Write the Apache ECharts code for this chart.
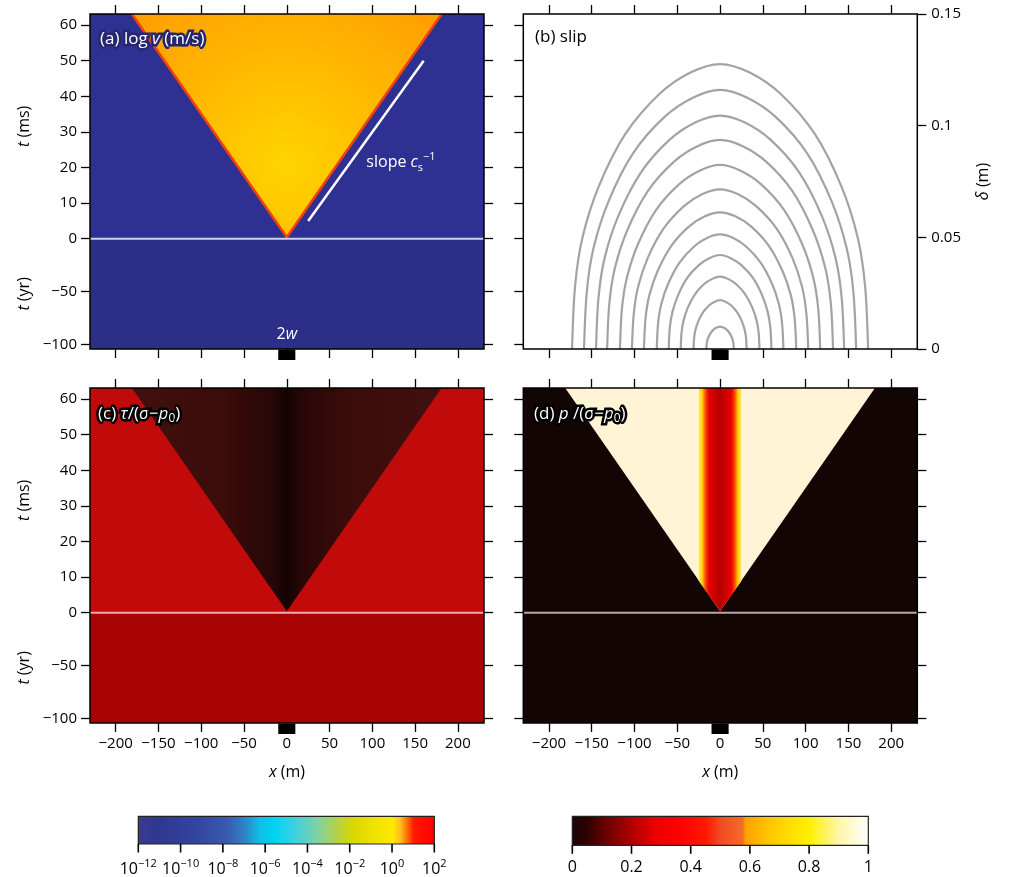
<!DOCTYPE html>
<html><head><meta charset="utf-8">
<script src="https://cdn.jsdelivr.net/npm/echarts@6/dist/echarts.min.js"></script>
<style>html,body{margin:0;padding:0;background:#fff}#c{width:1010px;height:877px}</style>
</head><body><div id="c"></div><script>
const FONT = '"Open Sans","Noto Sans",sans-serif';
const fmt = v => String(v).replace('-', '\u2212');

// ---------- data ----------
const xTicks = [-200, -150, -100, -50, 0, 50, 100, 150, 200];
const xRange = [-230, 230.5];
const tMsTicks = [0, 10, 20, 30, 40, 50, 60];
const tMsRange = [0, 63.1];
const tYrTicks = [-100, -50];
const tYrRange = [-104.5, 0];
const slipTicks = [0, 0.05, 0.1, 0.15];
const slipRange = [0, 0.15];
const twoW = [-10, 10];
const coneVerts = [[-181, 63.1], [0, 0.4], [181, 63.1]];
const stripeVerts = [[-25, 63.1], [-25, 9.0], [0, 0.4], [25, 9.0], [25, 63.1]];
const slopeLine = [[25, 5], [160, 50]];
const slopeLabelPos = [93, 21.4];
const twoWLabelPos = [0, -91];
const zeroLine = [[-230, 0], [230.5, 0]];
const logvTicks = [-12, -10, -8, -6, -4, -2, 0, 2];
const logvRange = [-12, 2];
const ratioTicks = [0, 0.2, 0.4, 0.6, 0.8, 1];
const ratioRange = [0, 1];

const slipX = [
  [-16,-15.7,-14.9,-13.1,-10.2,-6.6,-3.2,0,3.2,6.6,10.2,13.1,14.9,15.7,16],
  [-31,-30.4,-28.8,-25.4,-19.8,-12.7,-6.2,0,6.2,12.7,19.8,25.4,28.8,30.4,31],
  [-46,-45.1,-42.8,-37.7,-29.4,-18.9,-9.2,0,9.2,18.9,29.4,37.7,42.8,45.1,46],
  [-60,-58.8,-55.8,-49.2,-38.4,-24.6,-12,0,12,24.6,38.4,49.2,55.8,58.8,60],
  [-74,-72.5,-68.8,-60.7,-47.4,-30.3,-14.8,0,14.8,30.3,47.4,60.7,68.8,72.5,74],
  [-89,-87.2,-82.8,-73,-57,-36.5,-17.8,0,17.8,36.5,57,73,82.8,87.2,89],
  [-103,-100.9,-95.8,-84.5,-65.9,-42.2,-20.6,0,20.6,42.2,65.9,84.5,95.8,100.9,103],
  [-117,-114.7,-108.8,-95.9,-74.9,-48,-23.4,0,23.4,48,74.9,95.9,108.8,114.7,117],
  [-132,-129.4,-122.8,-108.2,-84.5,-54.1,-26.4,0,26.4,54.1,84.5,108.2,122.8,129.4,132],
  [-145,-142.1,-134.9,-118.9,-92.8,-59.5,-29,0,29,59.5,92.8,118.9,134.9,142.1,145],
  [-159,-155.8,-147.9,-130.4,-101.8,-65.2,-31.8,0,31.8,65.2,101.8,130.4,147.9,155.8,159],
  [-173,-169.5,-160.9,-141.9,-110.7,-70.9,-34.6,0,34.6,70.9,110.7,141.9,160.9,169.5,173]
];
const slipD = [
  [0,.0022,.0039,.0057,.0076,.0090,.0097,.0100,.0097,.0090,.0076,.0057,.0039,.0022,0],
  [0,.0048,.0085,.0125,.0165,.0196,.0212,.0219,.0212,.0196,.0165,.0125,.0085,.0048,0],
  [0,.0071,.0126,.0185,.0245,.0290,.0314,.0324,.0314,.0290,.0245,.0185,.0126,.0071,0],
  [0,.0093,.0164,.0240,.0318,.0377,.0408,.0421,.0408,.0377,.0318,.0240,.0164,.0093,0],
  [0,.0113,.0200,.0292,.0387,.0459,.0498,.0513,.0498,.0459,.0387,.0292,.0200,.0113,0],
  [0,.0135,.0239,.0349,.0462,.0548,.0594,.0612,.0594,.0548,.0462,.0349,.0239,.0135,0],
  [0,.0157,.0279,.0408,.0540,.0640,.0694,.0715,.0694,.0640,.0540,.0408,.0279,.0157,0],
  [0,.0181,.0321,.0470,.0622,.0737,.0799,.0824,.0799,.0737,.0622,.0470,.0321,.0181,0],
  [0,.0206,.0365,.0534,.0707,.0838,.0908,.0936,.0908,.0838,.0707,.0534,.0365,.0206,0],
  [0,.0230,.0408,.0596,.0789,.0935,.1014,.1045,.1014,.0935,.0789,.0596,.0408,.0230,0],
  [0,.0255,.0452,.0661,.0876,.1038,.1125,.1160,.1125,.1038,.0876,.0661,.0452,.0255,0],
  [0,.0281,.0498,.0727,.0963,.1142,.1238,.1276,.1238,.1142,.0963,.0727,.0498,.0281,0]
];

// ---------- layout / style ----------
const COL = [90, 523.3], ROW = [14, 388], W = 394, H = 335, HU = 224.7;
const NS = {fontSize: 16, fontFamily: FONT, color: '#000',
  rich: {i: {fontStyle: 'italic', fontSize: 16, fontFamily: FONT, color: '#000'}}};

const grids = [], xAxis = [], yAxis = [], series = [], graphic = [];
const G = o => (grids.push(o), grids.length - 1);
const X = o => (xAxis.push(o), xAxis.length - 1);
const Y = o => (yAxis.push(o), yAxis.length - 1);

function valAxis(gi, pos, range, ticks, showLabels, extra) {
  return Object.assign({
    type: 'value', gridIndex: gi, position: pos, min: range[0], max: range[1],
    axisLine: {show: false, onZero: false}, splitLine: {show: false},
    axisTick: {show: true, inside: false, length: 9, customValues: ticks, lineStyle: {color: '#000', width: 1.3}},
    axisLabel: {show: showLabels, customValues: ticks, formatter: fmt, color: '#000', fontSize: 15, fontFamily: FONT, margin: 13}
  }, extra || {});
}
function hiddenAxes(gi, xr, yr) {
  X({type: 'value', gridIndex: gi, show: false, min: xr[0], max: xr[1]});
  return Y({type: 'value', gridIndex: gi, show: false, min: yr[0], max: yr[1]});
}

function fieldPanel(left, top, o) {
  const gU = G({left, top, width: W, height: HU, show: true, backgroundColor: o.bgU, borderWidth: 0});
  const gL = G({left, top: top + HU, width: W, height: H - HU, show: true, backgroundColor: o.bgL, borderWidth: 0});
  const gF = G({left, top, width: W, height: H, show: true, backgroundColor: 'transparent', borderColor: '#000', borderWidth: 1.5, z: 10});
  hiddenAxes(gF, xRange, [0, 1]);
  const xT = X(valAxis(gU, 'top', xRange, xTicks, false));
  const yU = Y(valAxis(gU, 'left', tMsRange, tMsTicks, o.yLabels,
    o.yLabels ? {name: '{i|t} (ms)', nameLocation: 'middle', nameGap: 58, nameTextStyle: NS} : {}));
  Y(valAxis(gU, 'right', tMsRange, tMsTicks, false));
  const xB = X(valAxis(gL, 'bottom', xRange, xTicks, o.xLabels,
    o.xLabels ? {name: '{i|x} (m)', nameLocation: 'middle', nameGap: 41, nameTextStyle: NS} : {}));
  const yL = Y(valAxis(gL, 'left', tYrRange, tYrTicks, o.yLabels,
    o.yLabels ? {name: '{i|t} (yr)', nameLocation: 'middle', nameGap: 58, nameTextStyle: NS} : {}));
  Y(valAxis(gL, 'right', tYrRange, tYrTicks, false));
  series.push({type: 'line', xAxisIndex: xB, yAxisIndex: yL, data: zeroLine, symbol: 'none', clip: false, z: 6,
    silent: true, lineStyle: {color: o.zeroColor, width: 2}});
  series.push(twoWSeries(xB, yL, tYrRange[0]));
  return {xT, yU, xB, yL};
}

function twoWSeries(xi, yi, yMin) {
  return {type: 'custom', xAxisIndex: xi, yAxisIndex: yi, clip: false, silent: true, z: 12,
    data: [twoW],
    renderItem: (p, api) => {
      const a = api.coord([api.value(0), yMin]), b = api.coord([api.value(1), yMin]);
      return {type: 'rect', shape: {x: a[0], y: a[1] + 0.5, width: b[0] - a[0], height: 10.5}, style: {fill: '#000'}};
    }};
}

function polySeries(xi, yi, verts, style, z) {
  return {type: 'custom', xAxisIndex: xi, yAxisIndex: yi, clip: true, silent: true, z: z || 2,
    data: verts,
    renderItem: (p, api) => {
      if (p.dataIndex !== 0) return null;
      const pts = verts.map(v => api.coord(v));
      return {type: 'polygon', shape: {points: pts}, style: style};
    }};
}
function edgeSeries(xi, yi, verts, style, z) {
  return {type: 'custom', xAxisIndex: xi, yAxisIndex: yi, clip: true, silent: true, z: z || 3,
    data: verts,
    renderItem: (p, api) => {
      if (p.dataIndex !== 0) return null;
      const pts = verts.map(v => api.coord(v));
      return {type: 'polyline', shape: {points: pts}, style: Object.assign({fill: null}, style)};
    }};
}

// ---------- panel (a) ----------
const A = fieldPanel(COL[0], ROW[0], {bgU: '#2e3192', bgL: '#2c2f88', yLabels: true, xLabels: false, zeroColor: '#c9d5ea'});
series.push(polySeries(A.xT, A.yU, coneVerts, {
  fill: {type: 'radial', x: 0.5, y: 0.68, r: 0.9, colorStops: [
    {offset: 0, color: '#ffd400'}, {offset: 0.4, color: '#ffc000'}, {offset: 1, color: '#ffa000'}]}
}));
series.push(edgeSeries(A.xT, A.yU, coneVerts, {stroke: '#f4400c', lineWidth: 2.5}));
series.push({type: 'line', xAxisIndex: A.xT, yAxisIndex: A.yU, data: slopeLine, symbol: 'none', silent: true, z: 5,
  lineStyle: {color: '#fff', width: 2.5}});
series.push({type: 'custom', xAxisIndex: A.xT, yAxisIndex: A.yU, clip: false, silent: true, z: 12,
  data: [slopeLabelPos],
  renderItem: (p, api) => {
    const c = api.coord([api.value(0), api.value(1)]);
    return {type: 'text', x: c[0], y: c[1], style: {
      text: '{n|slope }{i|c}{s|s}{u|\u22121}', fill: '#fff', align: 'left', verticalAlign: 'middle',
      rich: {n: {fontSize: 16, fontFamily: FONT, fill: '#fff', lineHeight: 22},
             i: {fontSize: 16, fontFamily: FONT, fontStyle: 'italic', fill: '#fff', lineHeight: 22},
             s: {fontSize: 11, fontFamily: FONT, fill: '#fff', lineHeight: 12, verticalAlign: 'bottom'},
             u: {fontSize: 11, fontFamily: FONT, fill: '#fff', lineHeight: 12, verticalAlign: 'top'}}}};
  }});
series.push({type: 'custom', xAxisIndex: A.xB, yAxisIndex: A.yL, clip: false, silent: true, z: 12,
  data: [twoWLabelPos],
  renderItem: (p, api) => {
    const c = api.coord([api.value(0), api.value(1)]);
    return {type: 'text', x: c[0], y: c[1], style: {
      text: '{n|2}{i|w}', fill: '#fff', align: 'center', verticalAlign: 'middle',
      rich: {n: {fontSize: 16, fontFamily: FONT, fill: '#fff'},
             i: {fontSize: 16, fontFamily: FONT, fontStyle: 'italic', fill: '#fff'}}}};
  }});

// ---------- panel (c) ----------
const C = fieldPanel(COL[0], ROW[1], {bgU: '#c10b0b', bgL: '#a90404', yLabels: true, xLabels: true, zeroColor: '#eeaaaa'});
series.push(polySeries(C.xT, C.yU, coneVerts, {
  fill: {type: 'linear', x: 0, y: 0, x2: 1, y2: 0, colorStops: [
    {offset: 0, color: '#421010'}, {offset: 0.3, color: '#3a0c0a'}, {offset: 0.45, color: '#280707'},
    {offset: 0.5, color: '#140303'}, {offset: 0.55, color: '#280707'}, {offset: 0.7, color: '#3a0c0a'},
    {offset: 1, color: '#421010'}]}
}));

// ---------- panel (d) ----------
const D = fieldPanel(COL[1], ROW[1], {bgU: '#140505', bgL: '#140505', yLabels: false, xLabels: true, zeroColor: '#b9aaaa'});
series.push(polySeries(D.xT, D.yU, coneVerts, {fill: '#fff5d6'}));
series.push(polySeries(D.xT, D.yU, stripeVerts, {
  fill: {type: 'linear', x: 0, y: 0, x2: 1, y2: 0, colorStops: [
    {offset: 0, color: '#ffe878'}, {offset: 0.08, color: '#ffd200'}, {offset: 0.17, color: '#ff3a00'},
    {offset: 0.24, color: '#e80000'}, {offset: 0.5, color: '#b40000'}, {offset: 0.76, color: '#e80000'},
    {offset: 0.83, color: '#ff3a00'}, {offset: 0.92, color: '#ffd200'}, {offset: 1, color: '#ffe878'}]}
}, 3));

// ---------- panel (b) ----------
const gB = G({left: COL[1], top: ROW[0], width: W, height: H, show: true, backgroundColor: 'transparent', borderColor: '#000', borderWidth: 1.5, z: 10});
const bxT = X(valAxis(gB, 'top', xRange, xTicks, false));
const bxB = X(valAxis(gB, 'bottom', xRange, xTicks, false));
const byR = Y(valAxis(gB, 'right', slipRange, slipTicks, true,
  {name: '{i|\u03b4} (m)', nameLocation: 'middle', nameGap: 58, nameTextStyle: NS}));
yAxis[byR].axisLabel.margin = 14;
const gBU = G({left: COL[1], top: ROW[0], width: W, height: HU});
X({type: 'value', gridIndex: gBU, show: false, min: xRange[0], max: xRange[1]});
Y(valAxis(gBU, 'left', tMsRange, tMsTicks, false));
const gBL = G({left: COL[1], top: ROW[0] + HU, width: W, height: H - HU});
X({type: 'value', gridIndex: gBL, show: false, min: xRange[0], max: xRange[1]});
Y(valAxis(gBL, 'left', tYrRange, tYrTicks, false));
slipX.forEach((xs, k) => series.push({
  type: 'line', xAxisIndex: bxB, yAxisIndex: byR, data: xs.map((x, i) => [x, slipD[k][i]]),
  smooth: 0.3, symbol: 'none', silent: true, z: 4, lineStyle: {color: '#a3a3a3', width: 2.2}}));
series.push(twoWSeries(bxB, byR, slipRange[0]));

// ---------- colorbars ----------
function colorbar(left, range, ticks, formatter, rich, stops) {
  const g = G({left, top: 816.3, width: 296, height: 29, show: true, backgroundColor: 'transparent', borderColor: '#222', borderWidth: 1.2, z: 10});
  const xi = X({type: 'value', gridIndex: g, position: 'bottom', min: range[0], max: range[1], interval: ticks[1] - ticks[0],
    axisLine: {show: false, onZero: false}, splitLine: {show: false},
    axisTick: {show: false},
    axisLabel: {formatter, rich, customValues: ticks, color: '#000', fontSize: 16, fontFamily: FONT, margin: 14}});
  const yi = Y({type: 'value', gridIndex: g, show: false, min: 0, max: 1});
  series.push({type: 'custom', xAxisIndex: xi, yAxisIndex: yi, clip: true, silent: true,
    data: [range],
    renderItem: (p, api) => {
      const a = api.coord([api.value(0), 1]), b = api.coord([api.value(1), 0]);
      return {type: 'rect', shape: {x: a[0], y: a[1], width: b[0] - a[0], height: b[1] - a[1]},
        style: {fill: {type: 'linear', x: 0, y: 0, x2: 1, y2: 0, colorStops: stops}}};
    }});
  // tick marks below the bar, placed through the axis scale
  series.push({type: 'custom', xAxisIndex: xi, yAxisIndex: yi, clip: false, silent: true, z: 12,
    data: ticks.map(t => [t, 0]),
    renderItem: (p, api) => {
      const c = api.coord([api.value(0), api.value(1)]);
      return {type: 'rect', shape: {x: c[0] - 0.8, y: c[1], width: 1.6, height: 8.5}, style: {fill: '#000'}};
    }});
}
colorbar(138.3, logvRange, logvTicks,
  v => '{b|10}{s|' + fmt(v) + '}',
  {b: {fontSize: 16, fontFamily: FONT, color: '#000', lineHeight: 22},
   s: {fontSize: 11, fontFamily: FONT, color: '#000', lineHeight: 12, verticalAlign: 'top'}},
  [{offset: 0, color: '#3a3a8e'}, {offset: 0.08, color: '#2f3891'}, {offset: 0.2, color: '#3346a0'},
   {offset: 0.3, color: '#3a5ab0'}, {offset: 0.36, color: '#2e84c8'}, {offset: 0.41, color: '#0fbfe8'},
   {offset: 0.46, color: '#00d3f2'}, {offset: 0.53, color: '#3fd0e0'}, {offset: 0.61, color: '#84d29e'},
   {offset: 0.69, color: '#c2d32c'}, {offset: 0.73, color: '#d9d800'}, {offset: 0.8, color: '#f2e200'},
   {offset: 0.86, color: '#ffe800'}, {offset: 0.885, color: '#ffc020'}, {offset: 0.91, color: '#ff6a00'},
   {offset: 0.93, color: '#ff1a00'}, {offset: 1, color: '#ff0000'}]);
colorbar(572.3, ratioRange, ratioTicks, v => fmt(v), undefined,
  [{offset: 0, color: '#1c0404'}, {offset: 0.05, color: '#2e0202'}, {offset: 0.1, color: '#600000'},
   {offset: 0.2, color: '#b00000'}, {offset: 0.28, color: '#ec0000'}, {offset: 0.36, color: '#ff0000'},
   {offset: 0.45, color: '#ff1800'}, {offset: 0.5, color: '#f24a22'}, {offset: 0.575, color: '#f56a2a'},
   {offset: 0.585, color: '#ffa000'}, {offset: 0.66, color: '#ffc400'}, {offset: 0.75, color: '#ffe200'},
   {offset: 0.8, color: '#fff000'}, {offset: 0.9, color: '#fff6a8'}, {offset: 1, color: '#ffffff'}]);

// ---------- panel labels ----------
function panelLabel(x, y, text, rich, fill, stroke, lw) {
  graphic.push({type: 'text', x, y, z: 100, silent: true, style: {
    text, fill, stroke, lineWidth: lw, strokeFirst: true, fontSize: 17, fontFamily: FONT, verticalAlign: 'middle', align: 'left', rich}});
}
const richW = (stroke, lw) => ({
  i: {fontStyle: 'italic', fontSize: 17, fontFamily: FONT, fill: '#fff', stroke, lineWidth: lw, lineHeight: 22},
  n: {fontSize: 17, fontFamily: FONT, fill: '#fff', stroke, lineWidth: lw, lineHeight: 22},
  s: {fontSize: 12, fontFamily: FONT, fill: '#fff', stroke, lineWidth: lw, lineHeight: 13, verticalAlign: 'bottom'}});
panelLabel(100, 39, '{n|(a) log }{i|v}{n| (m/s)}', richW('#26276f', 5), '#fff', '#26276f', 5);
panelLabel(535, 37.5, '(b) slip', undefined, '#000', null, 0);
panelLabel(98, 414, '{n|(c) }{i|\u03c4}{n|/(}{i|\u03c3}{n|\u2212}{i|p}{s|0}{n|)}', richW('#000', 5), '#fff', '#000', 5);
panelLabel(534, 414, '{n|(d) }{i|p}{n| /(}{i|\u03c3}{n|\u2212}{i|p}{s|0}{n|)}', richW('#000', 5), '#fff', '#000', 5);

const chart = echarts.init(document.getElementById('c'), null, {renderer: 'canvas'});
chart.setOption({animation: false, backgroundColor: '#fff', grid: grids, xAxis, yAxis, series, graphic});
</script></body></html>
